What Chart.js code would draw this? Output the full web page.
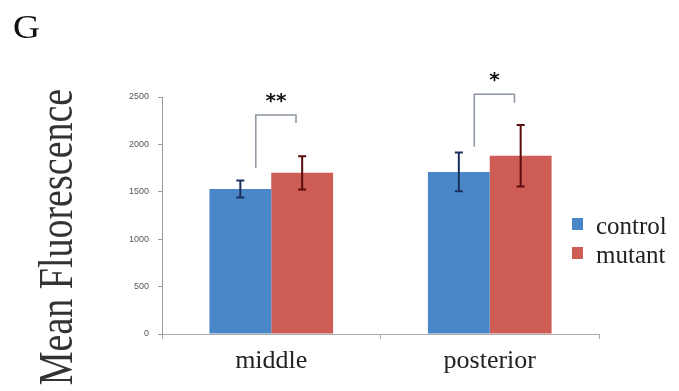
<!DOCTYPE html>
<html>
<head>
    <title>Mean Fluorescence</title>
    <script src="https://cdn.jsdelivr.net/npm/chart.js"></script>
    <style>
        body { margin: 0; background: #fff; }
        .wrap { position: relative; width: 679px; height: 391px; overflow: hidden; }
        canvas { position: absolute; left: 0; top: 0; }
        .panel {
            position: absolute; left: 13px; top: 8px;
            font: 34px "Liberation Serif", serif; color: #111;
            transform: scaleX(1.1); transform-origin: left top;
        }
        .ytitle {
            position: absolute; left: 56px; top: 237px;
            font: 38px "Liberation Serif", serif; color: #333;
            white-space: nowrap;
            transform: translate(-50%, -50%) rotate(-90deg) scaleY(1.25);
        }
        .legend { position: absolute; left: 572px; top: 211px; font: 25px "Liberation Serif", serif; color: #222; }
        .legend div { height: 29px; line-height: 29px; white-space: nowrap; }
        .legend span { display: inline-block; width: 11px; height: 12px; margin-right: 13px; vertical-align: 4px; }
    </style>
</head>
<body>
<div class="wrap">
    <canvas id="chart" width="679" height="391"></canvas>
    <div class="panel">G</div>
    <div class="ytitle">Mean Fluorescence</div>
    <div class="legend" id="legend"></div>
</div>
<script>
    const regions = ['middle', 'posterior'];
    const controlMean = [1530, 1710];
    const controlErr = [90, 205];
    const mutantMean = [1700, 1880];
    const mutantErr = [175, 325];
    const yTicks = [0, 500, 1000, 1500, 2000, 2500];
    // significance brackets: top, left leg bottom, right leg bottom (data units)
    const bracketTop = [2310, 2530];
    const bracketLeftEnd = [1750, 1975];
    const bracketRightEnd = [2225, 2440];
    const stars = ['**', '*'];

    const blue = '#4A87C9', red = '#CE5D55';

    const legendEl = document.getElementById('legend');
    [['control', blue], ['mutant', red]].forEach(([name, c]) => {
        const d = document.createElement('div');
        d.innerHTML = '<span style="background:' + c + '"></span>' + name;
        legendEl.appendChild(d);
    });

    const extras = {
        id: 'extras',
        afterDatasetsDraw(chart) {
            const ctx = chart.ctx;
            const y = chart.scales.y;
            const errs = [controlErr, mutantErr];
            const errColors = ['#1b2f5c', '#5c0d0d'];
            ctx.save();
            // error bars
            chart.data.datasets.forEach((ds, di) => {
                chart.getDatasetMeta(di).data.forEach((bar, i) => {
                    const hi = y.getPixelForValue(ds.data[i] + errs[di][i]);
                    const lo = y.getPixelForValue(ds.data[i] - errs[di][i]);
                    ctx.strokeStyle = errColors[di];
                    ctx.lineWidth = 2;
                    ctx.beginPath();
                    ctx.moveTo(bar.x, hi); ctx.lineTo(bar.x, lo);
                    ctx.moveTo(bar.x - 4, hi); ctx.lineTo(bar.x + 4, hi);
                    ctx.moveTo(bar.x - 4, lo); ctx.lineTo(bar.x + 4, lo);
                    ctx.stroke();
                });
            });
            // brackets and stars
            const c0 = chart.getDatasetMeta(0).data;
            const c1 = chart.getDatasetMeta(1).data;
            regions.forEach((r, i) => {
                const xl = c0[i].x + c0[i].width * 0.25;
                const xr = c1[i].x - c1[i].width * 0.1;
                const yt = y.getPixelForValue(bracketTop[i]);
                ctx.strokeStyle = '#8a94a0';
                ctx.lineWidth = 1.5;
                ctx.beginPath();
                ctx.moveTo(xl, y.getPixelForValue(bracketLeftEnd[i]));
                ctx.lineTo(xl, yt);
                ctx.lineTo(xr, yt);
                ctx.lineTo(xr, y.getPixelForValue(bracketRightEnd[i]));
                ctx.stroke();
                ctx.fillStyle = '#111';
                ctx.font = 'bold 20px "DejaVu Sans"';
                ctx.textAlign = 'center';
                ctx.textBaseline = 'middle';
                ctx.fillText(stars[i], (xl + xr) / 2, yt - 13);
            });
            ctx.restore();
        }
    };

    new Chart(document.getElementById('chart'), {
        type: 'bar',
        data: {
            labels: regions,
            datasets: [
                { label: 'control', data: controlMean, backgroundColor: blue },
                { label: 'mutant', data: mutantMean, backgroundColor: red }
            ]
        },
        options: {
            responsive: false,
            animation: false,
            layout: { padding: { top: 97, right: 80, left: 0, bottom: 0 } },
            datasets: { bar: { categoryPercentage: 0.566, barPercentage: 1 } },
            plugins: { legend: { display: false }, tooltip: { enabled: false } },
            scales: {
                x: {
                    afterFit: s => { s.height = 57; },
                    grid: { display: true, drawOnChartArea: false, offset: true, tickLength: 5, color: '#aaa' },
                    border: { color: '#aaa' },
                    ticks: { color: '#222', font: { family: 'Liberation Serif', size: 26 }, padding: 7 }
                },
                y: {
                    min: 0, max: 2500,
                    afterFit: s => { s.width = 162; },
                    afterBuildTicks: s => { s.ticks = yTicks.map(v => ({ value: v })); },
                    grid: { display: true, drawOnChartArea: false, tickLength: 4, color: '#999' },
                    border: { color: '#999' },
                    ticks: {
                        color: '#555', font: { family: 'Liberation Sans', size: 9 }, padding: 9,
                        callback: v => String(v)
                    }
                }
            }
        },
        plugins: [extras]
    });
</script>
</body>
</html>
